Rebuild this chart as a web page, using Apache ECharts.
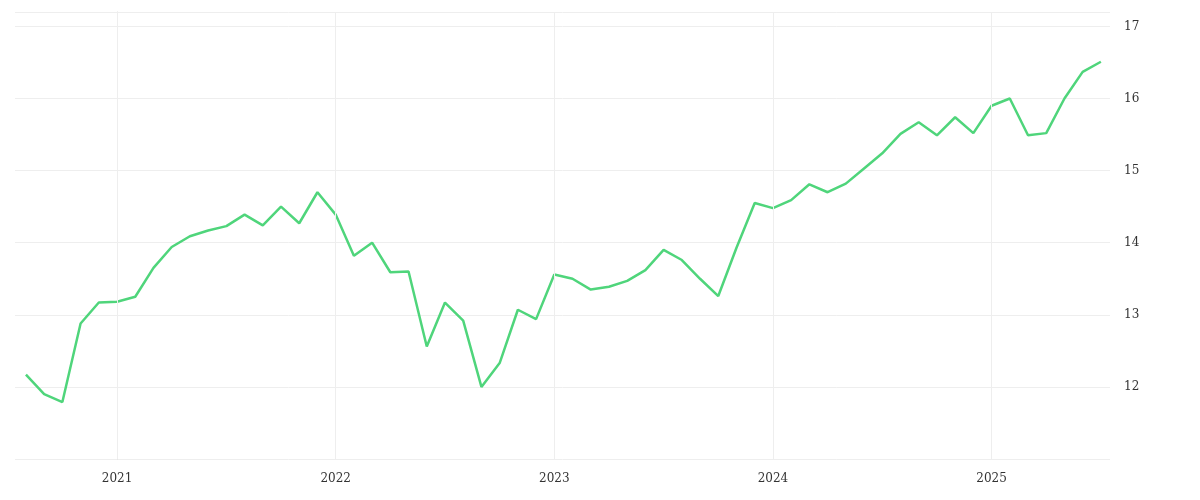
<!DOCTYPE html>
<html><head><meta charset="utf-8">
<script src="https://cdn.jsdelivr.net/npm/echarts@6/dist/echarts.min.js"></script>
<style>html,body{margin:0;padding:0;background:#fff}#c{width:1200px;height:500px}</style>
</head><body><div id="c"></div>
<script>
// months offset from Jan 2021; first point Aug 2020 = -5
const startOffset = -5;
const yearLabels = ['2021','2022','2023','2024','2025'];
const values = [12.17,11.9,11.79,12.88,13.17,13.18,13.25,13.65,13.94,14.09,14.17,14.23,14.39,14.24,14.5,14.27,14.7,14.39,13.82,14.0,13.59,13.6,12.56,13.17,12.92,12.0,12.33,13.07,12.94,13.56,13.5,13.35,13.39,13.47,13.62,13.9,13.76,13.5,13.26,13.93,14.55,14.48,14.59,14.81,14.7,14.82,15.03,15.24,15.51,15.67,15.49,15.74,15.52,15.9,16.0,15.49,15.52,16.0,16.37,16.51];
const data = values.map((v,i)=>[startOffset+i,v]);
const chart = echarts.init(document.getElementById('c'));
chart.setOption({
  animation:false,
  grid:{left:15,right:90,top:12,bottom:41},
  xAxis:{type:'value',min:-5.6,max:54.5,
    axisLine:{show:false},axisTick:{show:false},splitLine:{show:false},axisLabel:{show:false}},
  yAxis:{type:'value',position:'right',min:11,max:17.2,interval:1,
    axisLine:{show:true,lineStyle:{color:'#ddd'}},axisTick:{show:false},
    splitLine:{lineStyle:{color:'#eee'}},
    axisLabel:{color:'#333',fontFamily:'DejaVu Serif',fontSize:12,margin:14,showMinLabel:false,
      formatter:v=>(Number.isInteger(v)&&v>11)?String(v):''}},
  series:[{type:'line',data:data,showSymbol:false,lineStyle:{color:'#4fd57b',width:2.5},itemStyle:{color:'#4fd57b'},
    markLine:{silent:true,symbol:'none',lineStyle:{color:'#eee',type:'solid',width:1},
      label:{position:'start',distance:14,color:'#333',fontFamily:'DejaVu Serif',fontSize:12,formatter:p=>p.name},
      data:yearLabels.map((y,k)=>({name:y,xAxis:k*12}))}}]
});
</script></body></html>
